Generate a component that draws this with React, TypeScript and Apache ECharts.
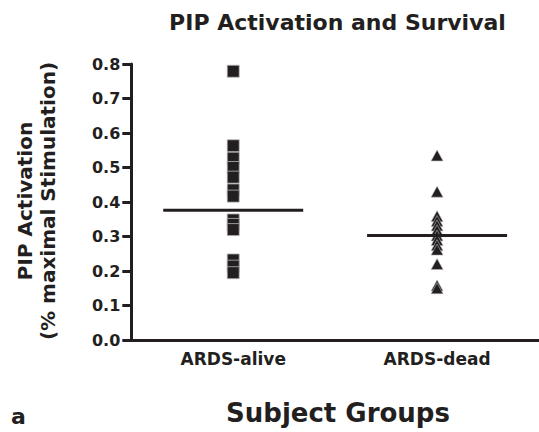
import React, { useEffect, useRef } from "react";
import * as echarts from "echarts";

const categories = ["ARDS-alive", "ARDS-dead"];
const aliveValues = [0.779, 0.563, 0.527, 0.5, 0.472, 0.435, 0.417, 0.348, 0.335, 0.32, 0.232, 0.214, 0.195];
const deadValues = [0.535, 0.43, 0.359, 0.345, 0.332, 0.318, 0.303, 0.29, 0.275, 0.262, 0.22, 0.158, 0.15];
const medians = [0.376, 0.303];
const yTicks = { min: 0, max: 0.8, interval: 0.1 };
const titleText = "PIP Activation and Survival";
const yTitle1 = "PIP Activation";
const yTitle2 = "(% maximal Stimulation)";
const xTitle = "Subject Groups";
const panelLabel = "a";

const INK = "#231f20";
const FONT = "DejaVu Sans";

export default function App() {
  const ref = useRef<HTMLDivElement>(null);
  useEffect(() => {
    if (!ref.current) return;
    const chart = echarts.init(ref.current, undefined, { renderer: "svg" });
    chart.setOption({
      animation: false,
      backgroundColor: "#ffffff",
      textStyle: { fontFamily: FONT },
      grid: { left: 131.3, top: 64, bottom: 92, right: -3.5, containLabel: false },
      xAxis: {
        type: "category",
        data: categories,
        axisLine: { lineStyle: { color: INK, width: 3 } },
        axisTick: { alignWithLabel: true, length: 8, lineStyle: { color: INK, width: 3 } },
        axisLabel: { color: INK, fontFamily: FONT, fontWeight: "bold", fontSize: 17, margin: 10 },
        splitLine: { show: false },
      },
      yAxis: {
        type: "value",
        min: yTicks.min,
        max: yTicks.max,
        interval: yTicks.interval,
        axisLine: { show: true, lineStyle: { color: INK, width: 3 } },
        axisTick: { show: true, length: 9, lineStyle: { color: INK, width: 3 } },
        axisLabel: {
          color: INK,
          fontFamily: FONT,
          fontWeight: "bold",
          fontSize: 16,
          margin: 11,
          formatter: (v: number) => v.toFixed(1),
        },
        splitLine: { show: false },
      },
      graphic: [
        {
          type: "text",
          x: 337.5,
          y: 22.5,
          style: { text: titleText, fill: INK, font: `bold 22px "${FONT}"`, textAlign: "center", textVerticalAlign: "middle" },
        },
        {
          type: "text",
          x: 25,
          y: 201,
          rotation: Math.PI / 2,
          style: { text: yTitle1, fill: INK, font: `bold 20px "${FONT}"`, textAlign: "center", textVerticalAlign: "middle" },
        },
        {
          type: "text",
          x: 48,
          y: 201,
          rotation: Math.PI / 2,
          style: { text: yTitle2, fill: INK, font: `bold 20px "${FONT}"`, textAlign: "center", textVerticalAlign: "middle" },
        },
        {
          type: "text",
          x: 338,
          y: 413,
          style: { text: xTitle, fill: INK, font: `bold 26px "${FONT}"`, textAlign: "center", textVerticalAlign: "middle" },
        },
        {
          type: "text",
          x: 11,
          y: 416,
          style: { text: panelLabel, fill: INK, font: `bold 22px "${FONT}"`, textAlign: "left", textVerticalAlign: "middle" },
        },
      ],
      series: [
        {
          type: "scatter",
          symbol: "rect",
          symbolSize: 12,
          itemStyle: { color: INK, borderColor: "#b8b8b8", borderWidth: 0.8, opacity: 1 },
          data: aliveValues.map((v) => [0, v]),
        },
        {
          type: "scatter",
          symbol: "triangle",
          symbolSize: [12, 11],
          itemStyle: { color: INK, borderColor: "#b8b8b8", borderWidth: 0.6, opacity: 1 },
          data: deadValues.map((v) => [1, v]),
        },
        {
          type: "custom",
          z: 5,
          data: medians.map((m, i) => [i, m]),
          renderItem: (_params: any, api: any) => {
            const p = api.coord([api.value(0), api.value(1)]);
            return {
              type: "line",
              shape: { x1: p[0] - 70, y1: p[1], x2: p[0] + 70, y2: p[1] },
              style: { stroke: INK, lineWidth: 3 },
            };
          },
        },
      ],
    });
    return () => chart.dispose();
  }, []);
  return <div ref={ref} style={{ position: "absolute", left: 0, top: 0, width: 539, height: 432 }} />;
}
